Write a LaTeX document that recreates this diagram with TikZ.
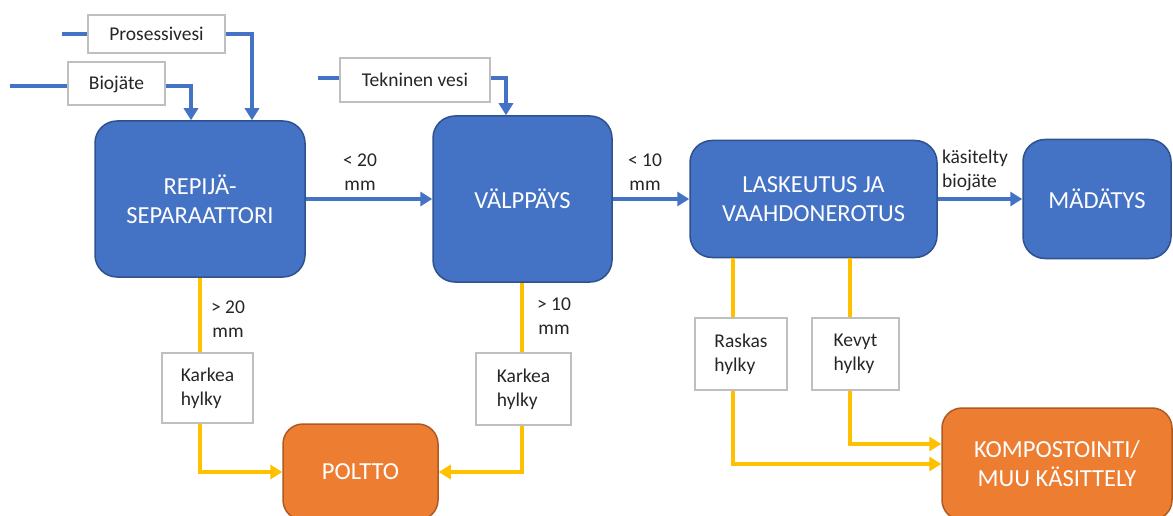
\documentclass[tikz,border=0pt]{standalone}
\usepackage{fontspec}
\setmainfont{Carlito}
\usetikzlibrary{arrows.meta}

\definecolor{procblue}{HTML}{4472C4}
\definecolor{procedge}{HTML}{2F528F}
\definecolor{burnorange}{HTML}{ED7D31}
\definecolor{burnedge}{HTML}{AE5A21}
\definecolor{rejectyellow}{HTML}{FFC000}
\definecolor{tagedge}{HTML}{BFBFBF}
\definecolor{tagtext}{HTML}{262626}

\begin{document}
\begin{tikzpicture}[x=1pt, y=-1pt,
  bigfont/.style={font=\fontsize{24.5}{29}\selectfont},
  smallfont/.style={font=\fontsize{19.5}{24}\selectfont},
  process/.style={draw=procedge, line width=1.5pt, fill=procblue,
    rounded corners=22pt, text=white, bigfont, align=center, inner sep=0pt},
  sink/.style={draw=burnedge, line width=1.5pt, fill=burnorange,
    rounded corners=20pt, text=white, bigfont, align=center, inner sep=0pt},
  tag/.style={draw=tagedge, line width=2pt, fill=white, text=tagtext,
    smallfont, align=left, inner sep=0pt},
  flowlabel/.style={text=tagtext, smallfont, inner sep=0pt},
  blueline/.style={draw=procblue, line width=3.5pt},
  blueflow/.style={blueline, -{Triangle[length=12pt,width=14pt]}},
  yelline/.style={draw=rejectyellow, line width=3.2pt},
  yelflow/.style={yelline, -{Triangle[length=12pt,width=14pt]}},
]
\clip (0,0) rectangle (1173,516);
\fill[white] (0,0) rectangle (1173,516);

% main process steps
\node[process, minimum width=210pt, minimum height=156pt] (rep) at (200,199)
  {REPIJÄ-\\SEPARAATTORI};
\node[process, minimum width=179pt, minimum height=166pt] (val) at (522.5,199)
  {VÄLPPÄYS};
\node[process, minimum width=247pt, minimum height=117pt] (lask) at (813.5,199)
  {LASKEUTUS JA\\VAAHDONEROTUS};
\node[process, minimum width=148pt, minimum height=119pt] (mad) at (1097,199)
  {MÄDÄTYS};

% end uses of the rejects
\node[sink, minimum width=155pt, minimum height=96pt] (polt) at (360.5,472)
  {POLTTO};
\node[sink, minimum width=230pt, minimum height=112pt] (komp) at (1057,464)
  {KOMPOSTOINTI/\\MUU KÄSITTELY};

% input streams
\node[tag, minimum width=137pt, minimum height=38pt] (pros) at (156.5,34) {Prosessivesi};
\node[tag, minimum width=97pt, minimum height=43pt] (bio) at (116.5,84) {Biojäte};
\node[tag, minimum width=150pt, minimum height=44pt] (tek) at (415,80) {Tekninen vesi};

% reject streams
\node[tag, minimum width=91pt, minimum height=70pt] (kar1) at (207.5,388) {Karkea\\hylky};
\node[tag, minimum width=95pt, minimum height=72pt] (kar2) at (523.5,389) {Karkea\\hylky};
\node[tag, minimum width=92pt, minimum height=72pt] (ras) at (741,354) {Raskas\\hylky};
\node[tag, minimum width=87pt, minimum height=72pt] (kev) at (855.5,354) {Kevyt\\hylky};

% labels on the flows
\node[flowlabel, align=center] (lab20) at (360,172) {< 20\\mm};
\node[flowlabel, align=center] (lab10) at (645,172) {< 10\\mm};
\node[flowlabel, align=left] (labbio) at (975,170) {käsitelty\\biojäte};
\node[flowlabel, align=center] (labk20) at (228,319) {> 20\\mm};
\node[flowlabel, align=center] (labk10) at (554,316) {> 10\\mm};

% free ends of the incoming streams and drop points of the reject lines
\coordinate (prosin) at (62,34);
\coordinate (bioin) at (10,86);
\coordinate (tekin) at (318,78);
\coordinate (drop1) at (200,0);
\coordinate (drop2) at (522,0);
\coordinate (drop3) at (733,0);
\coordinate (drop4) at (850,0);

% incoming streams
\draw[blueline] (prosin) -- (pros.west |- prosin);
\draw[blueflow] (pros.east |- prosin) -| ([xshift=52pt]rep.north);
\draw[blueline] (bioin) -- (bio.west |- bioin);
\draw[blueflow] (bio.east |- bioin) -| ([xshift=-9pt]rep.north);
\draw[blueline] (tekin) -- (tek.west |- tekin);
\draw[blueflow] (tek.east |- tekin) -| ([xshift=-16.5pt]val.north);

% main flow
\draw[blueflow] (rep.east) -- (val.west);
\draw[blueflow] (val.east) -- (lask.west);
\draw[blueflow] (lask.east) -- (mad.west);

% rejects
\draw[yelline] (rep.south -| drop1) -- (kar1.north -| drop1);
\draw[yelflow] (kar1.south -| drop1) |- (polt.west);
\draw[yelline] (val.south -| drop2) -- (kar2.north -| drop2);
\draw[yelflow] (kar2.south -| drop2) |- (polt.east);
\draw[yelline] (lask.south -| drop3) -- (ras.north -| drop3);
\draw[yelflow] (ras.south -| drop3) |- (komp.west);
\draw[yelline] (lask.south -| drop4) -- (kev.north -| drop4);
\draw[yelflow] (kev.south -| drop4) |- ([yshift=20pt]komp.west);
\end{tikzpicture}
\end{document}
